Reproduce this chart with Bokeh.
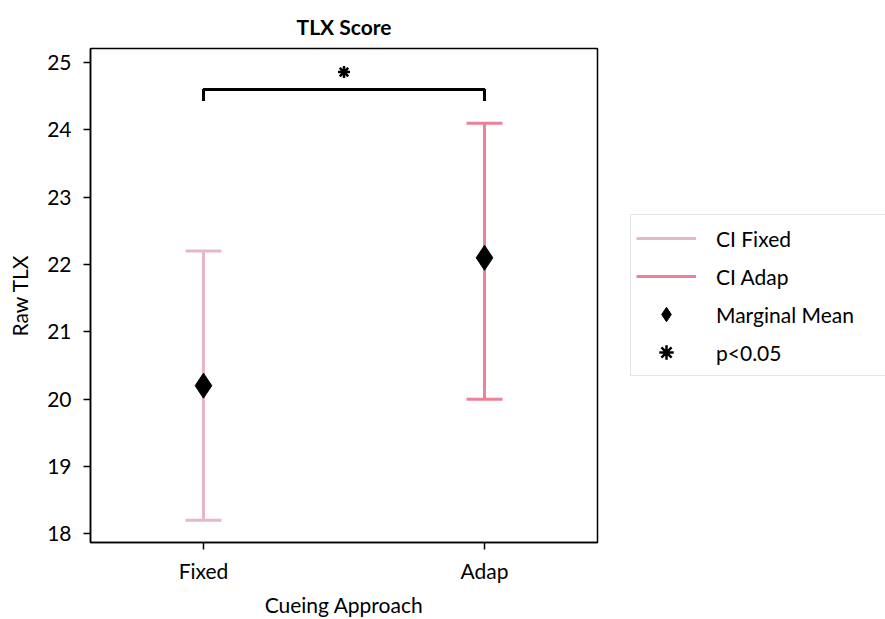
from bokeh.plotting import figure
from bokeh.models import Range1d, FixedTicker, Legend, LegendItem
from bokeh.embed import file_html
from bokeh.resources import INLINE

# data
categories = ["Fixed", "Adap"]
cat_pos = [0, 1]
means = [20.2, 22.1]
ci_low = [18.2, 20.0]
ci_high = [22.2, 24.1]
ci_colors = ["#e8b7c6", "#ec8199"]
# significance bracket
bracket_x = [0, 0, 1, 1]
bracket_y = [24.43, 24.6, 24.6, 24.43]
star_x = [0.5]
star_y = [24.86]
y_ticks = [18, 19, 20, 21, 22, 23, 24, 25]

FONT = "Lato"

p = figure(frame_width=507, frame_height=494, output_backend="svg", toolbar_location=None,
           x_range=Range1d(-0.402, 1.402), y_range=Range1d(17.87, 25.21),
           title="TLX Score")
p.min_border_left = 90
p.min_border_right = 0
p.min_border_top = 48
p.min_border_bottom = 77
p.grid.visible = False
p.outline_line_color = "black"
p.outline_line_width = 1.5
p.background_fill_color = "white"
p.border_fill_color = "white"

p.title.align = "center"
p.title.text_font = FONT
p.title.text_font_size = "21px"
p.title.text_font_style = "bold"
p.title.text_color = "black"
p.title.standoff = 20

p.xaxis.ticker = FixedTicker(ticks=cat_pos)
p.xaxis.major_label_overrides = {c: l for c, l in zip(cat_pos, categories)}
p.yaxis.ticker = FixedTicker(ticks=y_ticks)
p.xaxis.axis_label = "Cueing Approach"
p.yaxis.axis_label = "Raw TLX"
for ax in (p.xaxis, p.yaxis):
    ax.axis_line_color = "black"
    ax.axis_line_width = 1.5
    ax.major_tick_line_color = "black"
    ax.major_tick_line_width = 1.5
    ax.major_tick_out = 7
    ax.major_tick_in = 0
    ax.minor_tick_line_color = None
    ax.major_label_text_font = FONT
    ax.major_label_text_font_size = "21px"
    ax.major_label_text_color = "black"
    ax.axis_label_text_font = FONT
    ax.axis_label_text_font_size = "21px"
    ax.axis_label_text_font_style = "normal"
    ax.axis_label_text_color = "black"
p.xaxis.major_label_standoff = 8
p.xaxis.axis_label_standoff = 6
p.yaxis.major_label_standoff = 12
p.yaxis.axis_label_standoff = 12

cap = 0.064
ci_renderers = []
for i in range(len(categories)):
    x = cat_pos[i]
    r = p.segment(x0=[x], y0=[ci_low[i]], x1=[x], y1=[ci_high[i]],
                  line_color=ci_colors[i], line_width=3)
    p.segment(x0=[x - cap, x - cap], y0=[ci_low[i], ci_high[i]],
              x1=[x + cap, x + cap], y1=[ci_low[i], ci_high[i]],
              line_color=ci_colors[i], line_width=3)
    ci_renderers.append(r)

mean_r = p.scatter(x=cat_pos, y=means, marker="diamond", size=25,
                   fill_color="black", line_color="black")

p.line(x=bracket_x, y=bracket_y, line_color="black", line_width=3)
star_r = p.scatter(x=star_x, y=star_y, marker="asterisk", size=12,
                   line_color="black", line_width=2.5)

legend = Legend(items=[
    LegendItem(label="CI Fixed", renderers=[ci_renderers[0]]),
    LegendItem(label="CI Adap", renderers=[ci_renderers[1]]),
    LegendItem(label="Marginal Mean", renderers=[mean_r]),
    LegendItem(label="p<0.05", renderers=[star_r]),
])
legend.location = "center_left"
legend.margin = 33
legend.padding = 5
legend.spacing = 2
legend.glyph_width = 60
legend.glyph_height = 36
legend.label_height = 36
legend.label_width = 164
legend.label_standoff = 20
legend.label_text_font = FONT
legend.label_text_font_size = "21px"
legend.label_text_color = "black"
legend.border_line_color = "#cccccc"
legend.border_line_width = 1.5
p.add_layout(legend, "right")

open("out.html", "w").write(file_html(p, INLINE))
